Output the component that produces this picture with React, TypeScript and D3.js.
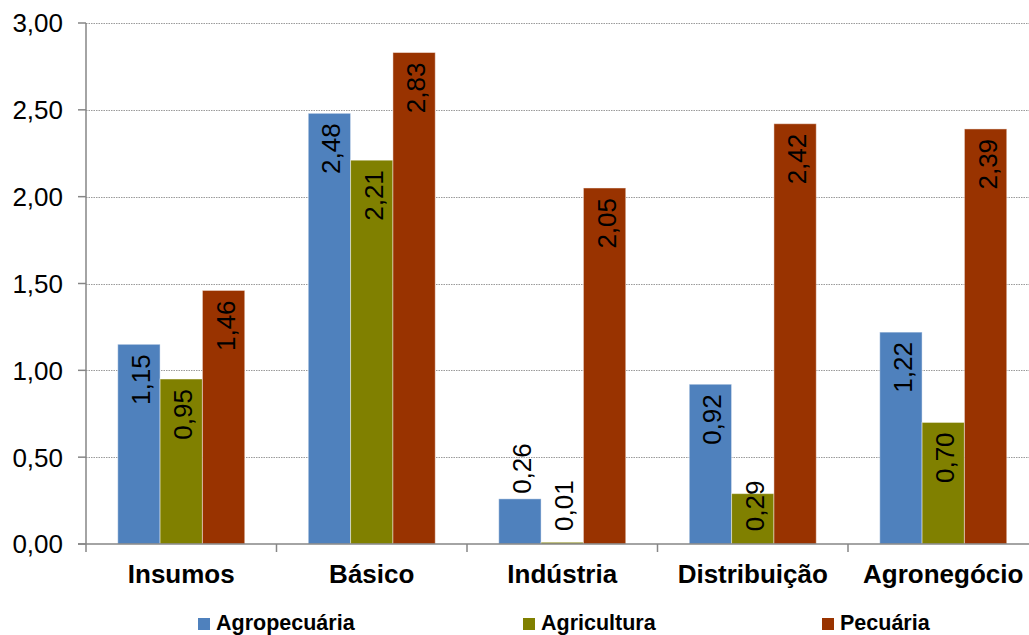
import React from "react";
import * as d3 from "d3";

const categories = ["Insumos", "Básico", "Indústria", "Distribuição", "Agronegócio"];
const seriesNames = ["Agropecuária", "Agricultura", "Pecuária"];
const agropecuaria = [1.15, 2.48, 0.26, 0.92, 1.22];
const agricultura = [0.95, 2.21, 0.01, 0.29, 0.7];
const pecuaria = [1.46, 2.83, 2.05, 2.42, 2.39];
const seriesValues = [agropecuaria, agricultura, pecuaria];
const colors = ["#4f81bd", "#808000", "#993300"];
const yTicks = [0, 0.5, 1, 1.5, 2, 2.5, 3];

const W = 1029;
const H = 635;
const left = 86;
const right = 1038.5;
const top = 23;
const bottom = 544;
const labelFont = 26;

const fmt = (v: number) => v.toFixed(2).replace(".", ",");

export default function App() {
  const x = d3.scaleBand<string>().domain(categories).range([left, right]).padding(0);
  const y = d3.scaleLinear().domain([0, 3]).range([bottom, top]);
  const catW = x.bandwidth();
  const barW = catW / 4.5;
  const inner = d3
    .scaleBand<string>()
    .domain(seriesNames)
    .range([barW * 0.75, catW - barW * 0.75])
    .padding(0);
  const labelLen = 1.94 * labelFont;
  const floorY = bottom - 13;

  return (
    <svg
      width={W}
      height={H}
      style={{ position: "absolute", left: 0, top: 0, overflow: "hidden", background: "#fff" }}
      fontFamily="Arial, 'Liberation Sans', sans-serif"
    >
      {yTicks.slice(1).map((t) => (
        <line
          key={"g" + t}
          x1={left}
          x2={W}
          y1={Math.round(y(t)) + 0.5}
          y2={Math.round(y(t)) + 0.5}
          stroke="#9a9a9a"
          strokeWidth={1}
          strokeDasharray="1.5,1"
        />
      ))}
      {categories.map((c, ci) =>
        seriesValues.map((vals, si) => {
          const v = vals[ci];
          const bx = (x(c) as number) + (inner(seriesNames[si]) as number);
          const by = y(v);
          return (
            <rect
              key={c + si}
              x={bx}
              y={by}
              width={inner.bandwidth()}
              height={bottom - by}
              fill={colors[si]}
              stroke="#ffffff"
              strokeOpacity={0.45}
              strokeWidth={1}
            />
          );
        })
      )}
      {categories.map((c, ci) =>
        seriesValues.map((vals, si) => {
          const v = vals[ci];
          const cx = (x(c) as number) + (inner(seriesNames[si]) as number) + inner.bandwidth() / 2;
          const by = y(v);
          const outside = bottom - by < labelLen - 4;
          let anchorY: number;
          let anchor: "start" | "end";
          if (outside) {
            anchorY = Math.min(by - 5, floorY);
            anchor = "start";
          } else {
            let endY = by + 10;
            if (endY + labelLen > floorY) endY = floorY - labelLen;
            anchorY = endY;
            anchor = "end";
          }
          return (
            <text
              key={"l" + c + si}
              transform={`translate(${cx},${anchorY}) rotate(-90)`}
              textAnchor={anchor}
              dy="0.42em"
              fontSize={labelFont}
              fill="#000"
            >
              {fmt(v)}
            </text>
          );
        })
      )}
      <line x1={left} x2={left} y1={top} y2={bottom} stroke="#868686" strokeWidth={1.5} />
      <line x1={left - 8} x2={W} y1={bottom} y2={bottom} stroke="#868686" strokeWidth={1.5} />
      {yTicks.map((t) => (
        <g key={"t" + t}>
          <line x1={left - 8} x2={left} y1={y(t)} y2={y(t)} stroke="#868686" strokeWidth={1.5} />
          <text x={63} y={y(t)} dy="0.36em" textAnchor="end" fontSize={26} fill="#000">
            {fmt(t)}
          </text>
        </g>
      ))}
      {categories.map((c, i) => (
        <line
          key={"xt" + i}
          x1={x(c) as number}
          x2={x(c) as number}
          y1={bottom}
          y2={bottom + 8}
          stroke="#868686"
          strokeWidth={1.5}
        />
      ))}
      {categories.map((c) => (
        <text
          key={"c" + c}
          x={(x(c) as number) + catW / 2}
          y={583}
          textAnchor="middle"
          fontSize={26}
          fontWeight="bold"
          fill="#000"
        >
          {c}
        </text>
      ))}
      {seriesNames.map((s, i) => {
        const lx = [198, 523, 822][i];
        return (
          <g key={"lg" + s}>
            <rect x={lx} y={618} width={12} height={12} fill={colors[i]} />
            <text x={lx + 18} y={630} fontSize={21.5} fontWeight="bold" fill="#000">
              {s}
            </text>
          </g>
        );
      })}
    </svg>
  );
}
